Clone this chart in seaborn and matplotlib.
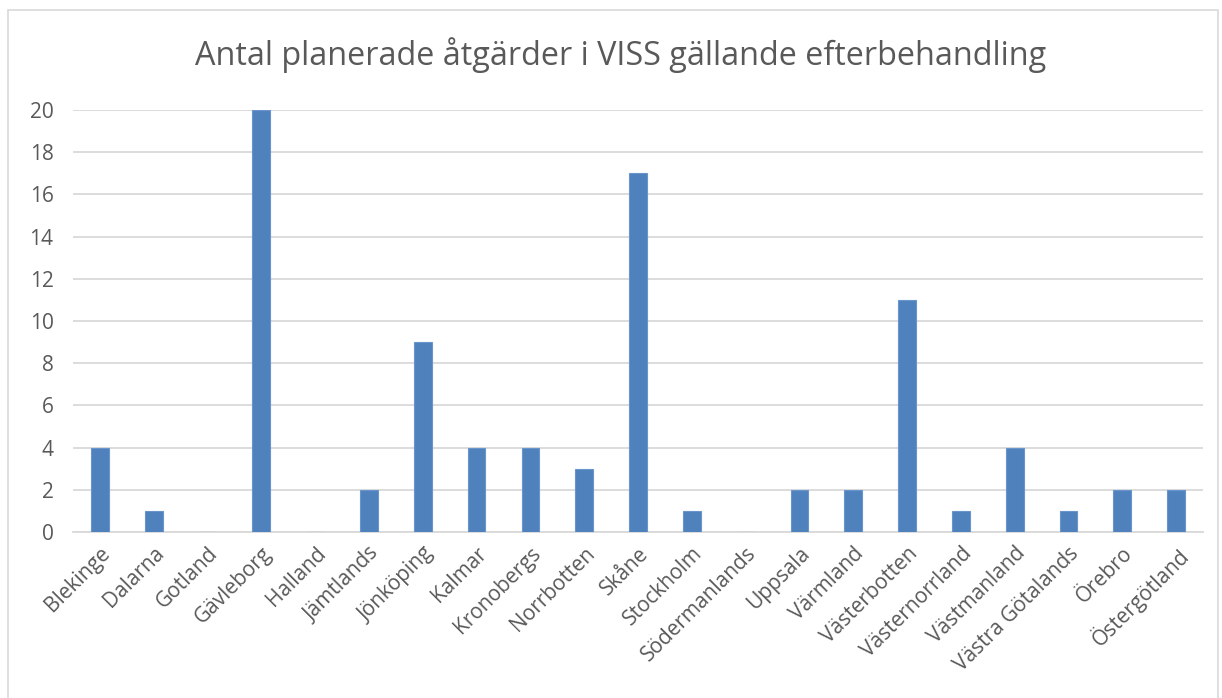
import matplotlib
matplotlib.use("Agg")
import matplotlib.pyplot as plt
import seaborn as sns
import pandas as pd
from matplotlib.patches import Rectangle

categories = ["Blekinge", "Dalarna", "Gotland", "Gävleborg", "Halland", "Jämtlands",
              "Jönköping", "Kalmar", "Kronobergs", "Norrbotten", "Skåne", "Stockholm",
              "Södermanlands", "Uppsala", "Värmland", "Västerbotten", "Västernorrland",
              "Västmanland", "Västra Götalands", "Örebro", "Östergötland"]
values = [4, 1, 0, 20, 0, 2, 9, 4, 4, 3, 17, 1, 0, 2, 2, 11, 1, 4, 1, 2, 2]
yticks = [0, 2, 4, 6, 8, 10, 12, 14, 16, 18, 20]
title = "Antal planerade åtgärder i VISS gällande efterbehandling"

sns.set_theme(style="white")
plt.rcParams['font.family'] = ['Open Sans', 'DejaVu Sans']
text_color = "#595959"

df = pd.DataFrame({"Län": categories, "Antal": values})

fig = plt.figure(figsize=(12.22, 6.98), dpi=100)
ax = fig.add_axes([73/1222, 1 - 532/698, (1203-73)/1222, (532-110)/698])

sns.barplot(data=df, x="Län", y="Antal", ax=ax, color="#4F81BD", width=0.33,
            edgecolor="#6A95CC", linewidth=0.8, saturation=1, zorder=3)

ax.set_ylim(0, 20)
ax.set_yticks(yticks)
ax.set_yticklabels([str(t) for t in yticks], fontsize=15, color=text_color)
ax.yaxis.grid(True, color="#D9D9D9", linewidth=1.3, zorder=0)
ax.xaxis.grid(False)
ax.set_axisbelow(True)
for s in ["top", "right", "left"]:
    ax.spines[s].set_visible(False)
ax.spines["bottom"].set_color("#D9D9D9")
ax.spines["bottom"].set_linewidth(1.3)
ax.set_xlabel("")
ax.set_ylabel("")
ax.tick_params(axis="y", length=0, pad=14)
ax.tick_params(axis="x", length=0, pad=8)
ax.set_xticks(range(len(categories)))
ax.set_xticklabels(categories, rotation=45, ha="right", rotation_mode="anchor",
                   fontsize=15, color=text_color)
ax.set_xlim(-0.5, len(categories) - 0.5)

fig.text(621/1222, 1 - 55/698, title, ha="center", va="center", fontsize=23.3, color=text_color)

fig.patches.append(Rectangle((8/1222, -0.01), (1218-8)/1222, 1 - 10/698 + 0.01,
                             transform=fig.transFigure, fill=False,
                             edgecolor="#D9D9D9", linewidth=1.2))

fig.savefig("out.png", dpi=100, facecolor="white")
